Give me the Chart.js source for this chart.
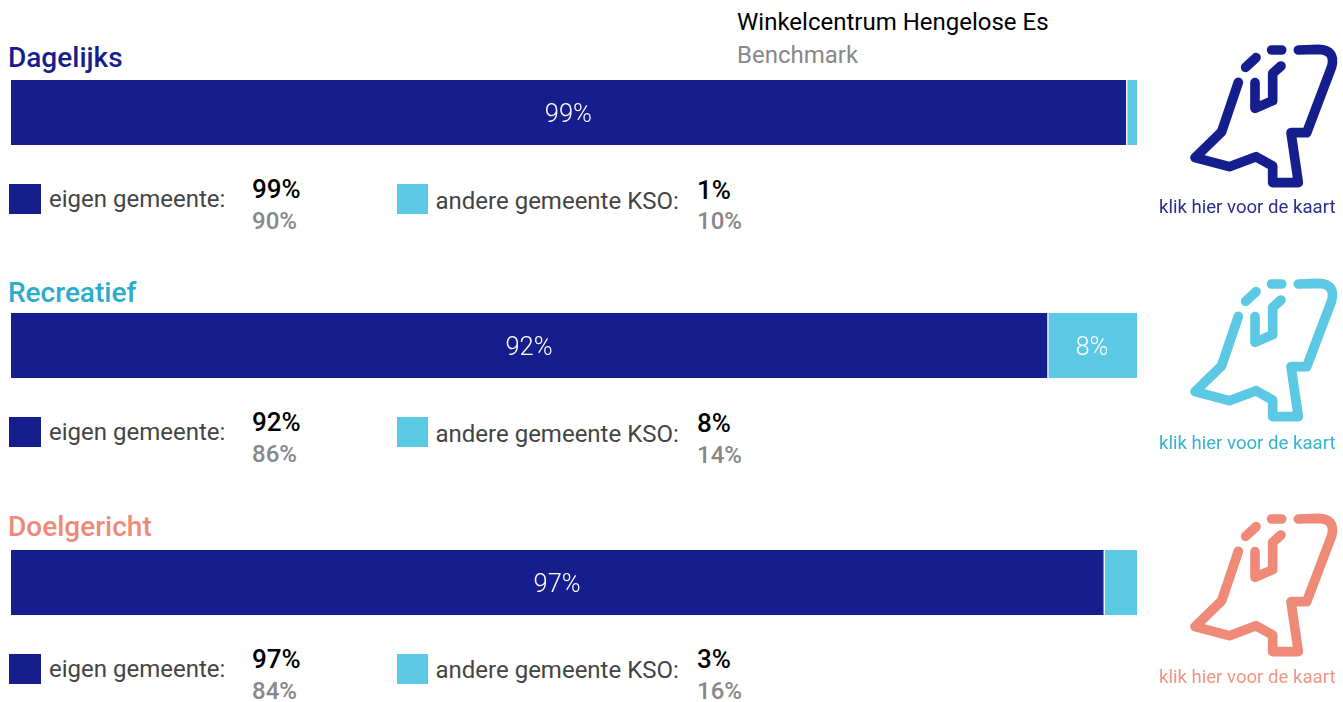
<!DOCTYPE html>
<html lang="nl">
<head>
<meta charset="utf-8">
<title>Herkomst bezoekers</title>
<script src="https://cdn.jsdelivr.net/npm/chart.js@4/dist/chart.umd.min.js"></script>
<style>
  html, body { margin: 0; padding: 0; background: #fff; overflow: hidden; }
  body { position: relative; width: 1343px; height: 702px; font-family: Roboto, sans-serif; }
  .txt { position: absolute; white-space: nowrap; line-height: 1; transform: translateY(-50%); }
  .title { font-size: 28px; font-weight: 500; }
  .legendLabel { font-size: 24px; color: #444; }
  .val { font-size: 26px; font-weight: 500; color: #000; }
  .bench { font-size: 24px; font-weight: 500; color: #888; }
  .swatch { position: absolute; height: 30px; }
  .barBox { position: absolute; left: 11px; width: 1126px; height: 65px; }
  .icon { position: absolute; left: 1130px; width: 213px; height: 200px; }
  .mapLink { font-size: 18.6px; }
</style>
</head>
<body>
<script>
// Data
const categories = ["Dagelijks", "Recreatief", "Doelgericht"];
const eigenGemeente = [99, 92, 97];
const andereGemeente = [1, 8, 3];
const benchEigen = [90, 86, 84];
const benchAndere = [10, 14, 16];

const navy = "#151e8c";
const cyan = "#5bc8e4";
const titleColors = ["#151e8c", "#2bacca", "#f08a78"];
const iconColors = ["#151e8c", "#5bc8e4", "#f08a78"];
const linkColors = ["#27308f", "#35b3d0", "#f29684"];

// Layout per block
const titleY = [58, 292.5, 526.5];
const barY = [80, 313, 549.5];
const swatchY = [184, 417, 654];
const labelY = [199, 432, 669];
const labelY2 = [201, 434, 670];
const valY = [189, 422, 659];
const valY2 = [190, 423, 659];
const benchY = [221, 453.5, 691];
const benchY2 = [221, 455, 691];
const iconTop = [30, 264, 499];
const linkY = [207, 443, 677];

function addText(text, cls, x, y, color) {
  const el = document.createElement("div");
  el.className = "txt " + cls;
  el.textContent = text;
  el.style.left = x + "px";
  el.style.top = y + "px";
  if (color) el.style.color = color;
  document.body.appendChild(el);
  return el;
}

function addSwatch(x, y, w, color) {
  const el = document.createElement("div");
  el.className = "swatch";
  el.style.left = x + "px";
  el.style.top = y + "px";
  el.style.width = w + "px";
  el.style.background = color;
  document.body.appendChild(el);
}

function addIcon(y, color) {
  const ns = "http://www.w3.org/2000/svg";
  const svg = document.createElementNS(ns, "svg");
  svg.setAttribute("class", "icon");
  svg.setAttribute("viewBox", "0 0 639 600");
  svg.style.top = y + "px";
  const outlines = [
    "M325 157 L275 305 L195 383 L298 410 L378 380 L428 408 L428 458 L505 458 L483 308 L530 308 L605 110 Q618 60 565 58 L505 60",
    "M375 158 L375 235 L428 212 L428 130 L453 108",
    "M347 112 L378 83",
    "M425 60 L455 60",
  ];
  outlines.forEach((d) => {
    const path = document.createElementNS(ns, "path");
    path.setAttribute("d", d);
    path.setAttribute("fill", "none");
    path.setAttribute("stroke", color);
    path.setAttribute("stroke-width", "29");
    path.setAttribute("stroke-linecap", "round");
    path.setAttribute("stroke-linejoin", "round");
    svg.appendChild(path);
  });
  document.body.appendChild(svg);
}

// Percent labels inside the bars, small segments stay empty
const barLabels = {
  id: "barLabels",
  afterDatasetsDraw(chart) {
    const { ctx } = chart;
    ctx.save();
    ctx.font = "300 25.5px Roboto";
    ctx.fillStyle = "#fff";
    ctx.textAlign = "center";
    ctx.textBaseline = "middle";
    chart.data.datasets.forEach((dataset, i) => {
      const value = dataset.data[0];
      if (value < 5) return;
      const bar = chart.getDatasetMeta(i).data[0];
      ctx.fillText(value + "%", (bar.base + bar.x) / 2, bar.y + 3);
    });
    ctx.restore();
  },
};

function addBar(index) {
  const box = document.createElement("div");
  box.className = "barBox";
  box.style.top = barY[index] + "px";
  const canvas = document.createElement("canvas");
  box.appendChild(canvas);
  document.body.appendChild(box);

  new Chart(canvas, {
    type: "bar",
    data: {
      labels: [categories[index]],
      datasets: [
        { label: "eigen gemeente", data: [eigenGemeente[index]], backgroundColor: navy },
        { label: "andere gemeente KSO", data: [andereGemeente[index]], backgroundColor: cyan, borderColor: "#fff", borderWidth: { left: 2 }, borderSkipped: false },
      ],
    },
    options: {
      indexAxis: "y",
      responsive: true,
      maintainAspectRatio: false,
      animation: false,
      layout: { padding: 0 },
      plugins: { legend: { display: false }, tooltip: { enabled: false } },
      datasets: { bar: { barPercentage: 1, categoryPercentage: 1 } },
      scales: {
        x: { stacked: true, display: false, min: 0, max: 100 },
        y: { stacked: true, display: false },
      },
    },
    plugins: [barLabels],
  });
}

addText("Winkelcentrum Hengelose Es", "", 737, 22, "#000").style.fontSize = "24px";
addText("Benchmark", "", 737, 55, "#888").style.fontSize = "24px";

categories.forEach((name, i) => {
  addText(name, "title", 8, titleY[i], titleColors[i]);
  addBar(i);

  addSwatch(9, swatchY[i], 32, navy);
  addText("eigen gemeente:", "legendLabel", 49, labelY[i]);
  addText(eigenGemeente[i] + "%", "val", 252, valY[i]);
  addText(benchEigen[i] + "%", "bench", 252, benchY[i]);

  addSwatch(397, swatchY[i], 31, cyan);
  addText("andere gemeente KSO:", "legendLabel", 435.5, labelY2[i]);
  addText(andereGemeente[i] + "%", "val", 697, valY2[i]);
  addText(benchAndere[i] + "%", "bench", 697, benchY2[i]);

  addIcon(iconTop[i], iconColors[i]);
  addText("klik hier voor de kaart", "mapLink", 1159, linkY[i], linkColors[i]);
});
</script>
</body>
</html>
